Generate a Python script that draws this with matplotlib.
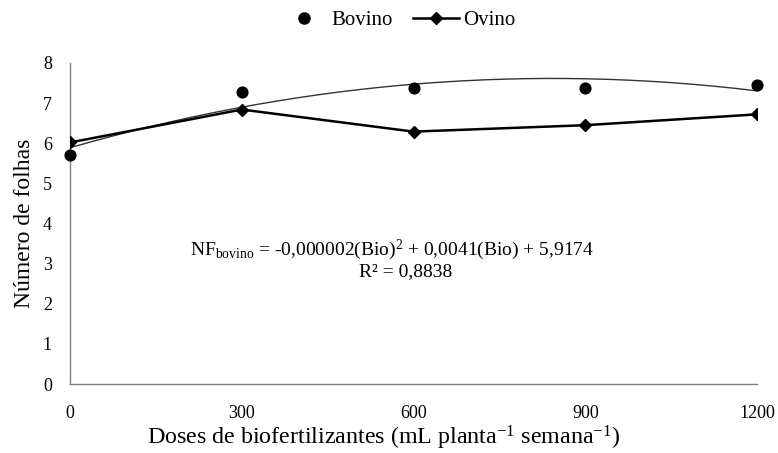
import numpy as np
import matplotlib
matplotlib.use("Agg")
from matplotlib import pyplot as plt
from matplotlib.lines import Line2D

plt.rcParams['font.family'] = ['Liberation Serif', 'DejaVu Serif']
plt.rcParams['mathtext.fontset'] = 'custom'
plt.rcParams['mathtext.rm'] = 'Liberation Serif'
plt.rcParams['mathtext.it'] = 'Liberation Serif:italic'

doses = [0, 300, 600, 900, 1200]
bovino = [5.72, 7.27, 7.37, 7.37, 7.44]
ovino = [6.02, 6.84, 6.29, 6.45, 6.72]

# ajuste quadratico do bovino
coef = np.polyfit(doses, bovino, 2)
xfit = np.linspace(0, 1200, 200)
yfit = np.polyval(coef, xfit)

fig = plt.figure(figsize=(7.78, 4.53), dpi=100)
ax = fig.add_axes([0.09, 0.152, 0.883, 0.709])

ax.plot(xfit, yfit, color="#333333", lw=1.0, zorder=2)
ax.plot(doses, ovino, color="black", lw=1.8, marker="D", ms=6, zorder=3)
ax.scatter(doses, bovino, color="black", s=60, zorder=4, clip_on=False)

ax.set_xlim(0, 1200)
ax.set_ylim(0, 8)
ax.set_xticks(doses)
ax.set_yticks(range(0, 9))
ax.tick_params(length=0, labelsize=13)
ax.tick_params(axis="x", pad=15)
ax.tick_params(axis="y", pad=13)
for s in ["top", "right"]:
    ax.spines[s].set_visible(False)
for s in ["left", "bottom"]:
    ax.spines[s].set_color("#7f7f7f")
    ax.spines[s].set_linewidth(1.0)

ax.set_xlabel("Doses de biofertilizantes (mL planta$^{\\mathrm{-1}}$ semana$^{\\mathrm{-1}}$)", fontsize=17.3, labelpad=2)
ax.xaxis.set_label_coords(0.456, -0.125)
ax.set_ylabel("Número de folhas", fontsize=17, labelpad=6)

ax.text(562, 3.35, "NF$_{\\mathrm{bovino}}$ = -0,000002(Bio)$^{2}$ + 0,0041(Bio) + 5,9174",
        ha="center", va="center", fontsize=14)
ax.text(587, 2.8, "R² = 0,8838", ha="center", va="center", fontsize=14)

h1 = Line2D([], [], color="black", marker="o", ls="none", ms=8)
h2 = Line2D([], [], color="black", marker="D", lw=1.8, ms=6)
fig.legend([h1, h2], ["Bovino", "Ovino"], loc="center", bbox_to_anchor=(0.512, 0.955),
           ncol=2, frameon=False, fontsize=15, handlelength=2.2, columnspacing=1.0, handletextpad=0.2)

fig.savefig("out.png", dpi=100)
